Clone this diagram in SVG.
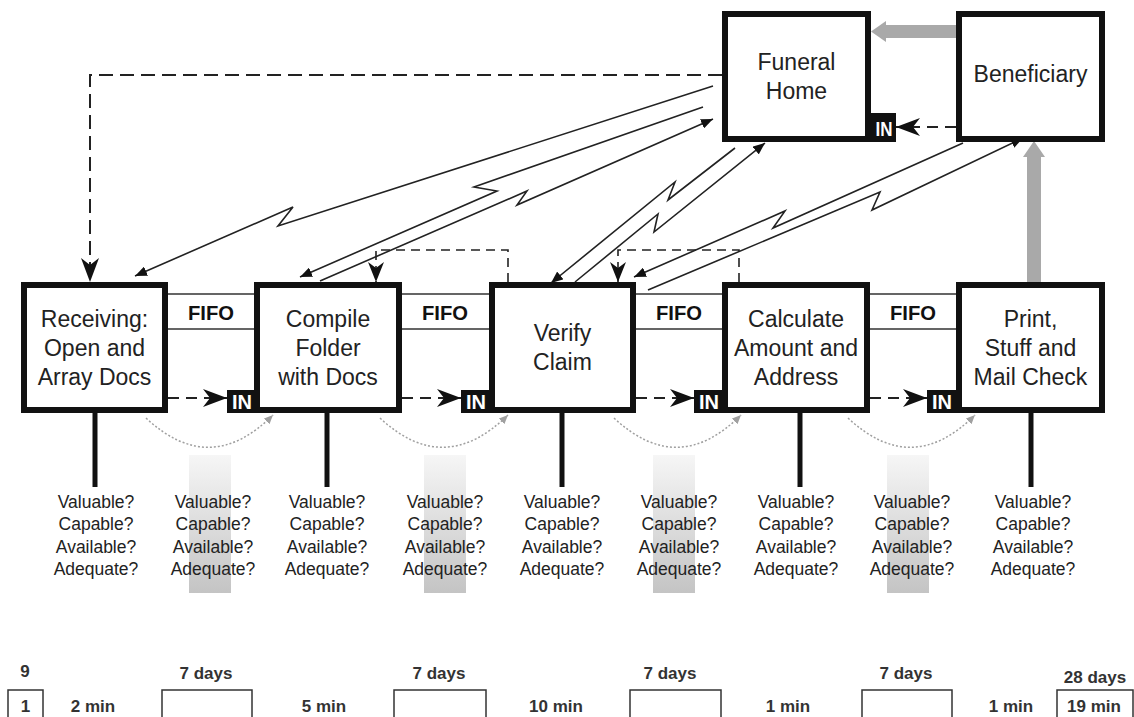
<svg xmlns="http://www.w3.org/2000/svg" width="1134" height="717" viewBox="0 0 1134 717">
<style>
.box{fill:#fff;stroke:#111;stroke-width:6}
.lbl{font-family:"Liberation Sans",Arial,sans-serif;font-size:23px;fill:#222;text-anchor:middle}
.fifo{font-family:"Liberation Sans",Arial,sans-serif;font-size:21px;font-weight:bold;fill:#111;text-anchor:middle}
.in{font-family:"Liberation Sans",Arial,sans-serif;font-size:20px;font-weight:bold;fill:#fff;text-anchor:middle}
.q{font-family:"Liberation Sans",Arial,sans-serif;font-size:17.5px;fill:#222;text-anchor:middle}
.t{font-family:"Liberation Sans",Arial,sans-serif;font-size:17px;font-weight:bold;fill:#333;text-anchor:middle}
.thin{stroke:#333;stroke-width:1.5;fill:none}
.zig{stroke:#222;stroke-width:1.6;fill:none;stroke-linejoin:miter;marker-end:url(#tri)}
.dashL{stroke:#222;stroke-width:2;fill:none;stroke-dasharray:14 7;marker-end:url(#barb)}
.dashS{stroke:#222;stroke-width:1.6;fill:none;stroke-dasharray:9 6;marker-end:url(#barbS)}
.dashIn{stroke:#222;stroke-width:2;fill:none;stroke-dasharray:11 7;marker-end:url(#barb)}
.dot{stroke:#a0a0a0;stroke-width:1.5;fill:none;stroke-dasharray:2 2;marker-end:url(#gtri)}
.stem{stroke:#111;stroke-width:5}
.band{fill:url(#bandg)}
.gray{fill:#a9a9a9}
.tbox{fill:none;stroke:#333;stroke-width:1.5}
</style>
<defs>
<marker id="barb" viewBox="0 0 24 18" refX="24" refY="9" markerWidth="24" markerHeight="18" orient="auto" markerUnits="userSpaceOnUse"><path d="M24,9 L0,0 L7,9 L0,18 Z" fill="#111"/></marker>
<marker id="barbS" viewBox="0 0 20 16" refX="20" refY="8" markerWidth="20" markerHeight="16" orient="auto" markerUnits="userSpaceOnUse"><path d="M20,8 L0,0 L6,8 L0,16 Z" fill="#111"/></marker>
<marker id="tri" viewBox="0 0 12 10" refX="12" refY="5" markerWidth="12" markerHeight="10" orient="auto" markerUnits="userSpaceOnUse"><path d="M0,0 L12,5 L0,10 Z" fill="#111"/></marker>
<marker id="gtri" viewBox="0 0 9 8" refX="9" refY="4" markerWidth="9" markerHeight="8" orient="auto" markerUnits="userSpaceOnUse"><path d="M0,0 L9,4 L0,8 Z" fill="#a0a0a0"/></marker>
<linearGradient id="bandg" x1="0" y1="0" x2="0" y2="1"><stop offset="0" stop-color="#f6f6f6"/><stop offset="1" stop-color="#c4c4c4"/></linearGradient>
</defs>

<g id="bands">
<rect class="band" x="189" y="455" width="42" height="138"/>
<rect class="band" x="424" y="455" width="42" height="138"/>
<rect class="band" x="653" y="455" width="42" height="138"/>
<rect class="band" x="887" y="455" width="42" height="138"/>
</g>

<g id="connectors">
<!-- FIFO lanes -->
<path class="thin" d="M168,294 H254 M168,329 H254"/>
<path class="thin" d="M402,294 H489 M402,329 H489"/>
<path class="thin" d="M636,294 H722 M636,329 H722"/>
<path class="thin" d="M870,294 H956 M870,329 H956"/>
<!-- gray physical flow arrows -->
<rect class="gray" x="885" y="25" width="71" height="13"/>
<polygon class="gray" points="871,31.5 886,21 886,42"/>
<rect class="gray" x="1027" y="155" width="14" height="128"/>
<polygon class="gray" points="1034,141 1023,157 1045,157"/>
<!-- dashed info flows -->
<path class="dashL" d="M722,75 H90 V282"/>
<path class="dashS" d="M508,282 V250 H376 V282"/>
<path class="dashS" d="M739,282 V250 H618 V282"/>
<path class="dashIn" d="M168,398 H227"/>
<path class="dashIn" d="M402,398 H461"/>
<path class="dashIn" d="M636,398 H694"/>
<path class="dashIn" d="M870,398 H927"/>
<path class="dashIn" d="M956,127 H896"/>
<!-- electronic flows -->
<path class="zig" d="M713,86 L278,226 L293,207 L135,276"/>
<path class="zig" d="M703,107 L474,187 L497,191 L300,277"/>
<path class="zig" d="M320,281 L527,191 L517,205 L713,119"/>
<path class="zig" d="M735,148 L668,200 L675,182 L551,283"/>
<path class="zig" d="M575,282 L658,214 L654,232 L765,143"/>
<path class="zig" d="M963,143 L773,228 L785,211 L634,277"/>
<path class="zig" d="M648,290 L880,192 L872,210 L1023,138"/>
<!-- dotted pull curves -->
<path class="dot" d="M146,418 Q210,478 273,415"/>
<path class="dot" d="M380,418 Q444,478 508,415"/>
<path class="dot" d="M614,418 Q678,478 741,415"/>
<path class="dot" d="M848,418 Q912,478 975,415"/>
<!-- stems -->
<line class="stem" x1="95" y1="413" x2="95" y2="487"/>
<line class="stem" x1="327" y1="413" x2="327" y2="487"/>
<line class="stem" x1="562" y1="413" x2="562" y2="487"/>
<line class="stem" x1="800" y1="413" x2="800" y2="487"/>
<line class="stem" x1="1031" y1="413" x2="1031" y2="487"/>
</g>

<g id="fifo-labels">
<text class="fifo" x="211" y="320" textLength="46" lengthAdjust="spacingAndGlyphs">FIFO</text>
<text class="fifo" x="445" y="320" textLength="46" lengthAdjust="spacingAndGlyphs">FIFO</text>
<text class="fifo" x="679" y="320" textLength="46" lengthAdjust="spacingAndGlyphs">FIFO</text>
<text class="fifo" x="913" y="320" textLength="46" lengthAdjust="spacingAndGlyphs">FIFO</text>
</g>

<g id="funeral-home">
<rect class="box" x="725" y="14" width="143" height="125"/>
<text class="lbl" x="796.5" y="70">Funeral</text>
<text class="lbl" x="796.5" y="99">Home</text>
<rect x="871" y="113" width="25" height="29" fill="#111"/>
<text class="in" x="884" y="136" font-size="22" textLength="17" lengthAdjust="spacingAndGlyphs">IN</text>
</g>

<g id="beneficiary">
<rect class="box" x="959" y="14" width="143" height="125"/>
<text class="lbl" x="1030.5" y="82">Beneficiary</text>
</g>

<g id="receiving">
<rect class="box" x="24" y="285" width="141" height="125"/>
<text class="lbl" x="94.5" y="327">Receiving:</text>
<text class="lbl" x="94.5" y="356">Open and</text>
<text class="lbl" x="94.5" y="385">Array Docs</text>
</g>

<g id="compile">
<rect class="box" x="257" y="285" width="142" height="125"/>
<text class="lbl" x="328" y="327">Compile</text>
<text class="lbl" x="328" y="356">Folder</text>
<text class="lbl" x="328" y="385">with Docs</text>
<rect x="227" y="390" width="30" height="23" fill="#111"/>
<text class="in" x="242" y="409" textLength="20" lengthAdjust="spacingAndGlyphs">IN</text>
</g>

<g id="verify">
<rect class="box" x="492" y="285" width="141" height="125"/>
<text class="lbl" x="562.5" y="341">Verify</text>
<text class="lbl" x="562.5" y="370">Claim</text>
<rect x="461" y="390" width="30" height="23" fill="#111"/>
<text class="in" x="476" y="409" textLength="20" lengthAdjust="spacingAndGlyphs">IN</text>
</g>

<g id="calculate">
<rect class="box" x="725" y="285" width="142" height="125"/>
<text class="lbl" x="796" y="327">Calculate</text>
<text class="lbl" x="796" y="356">Amount and</text>
<text class="lbl" x="796" y="385">Address</text>
<rect x="694" y="390" width="30" height="23" fill="#111"/>
<text class="in" x="709" y="409" textLength="20" lengthAdjust="spacingAndGlyphs">IN</text>
</g>

<g id="print">
<rect class="box" x="959" y="285" width="143" height="125"/>
<text class="lbl" x="1030.5" y="327">Print,</text>
<text class="lbl" x="1030.5" y="356">Stuff and</text>
<text class="lbl" x="1030.5" y="385">Mail Check</text>
<rect x="927" y="390" width="31" height="23" fill="#111"/>
<text class="in" x="942" y="409" textLength="20" lengthAdjust="spacingAndGlyphs">IN</text>
</g>

<g id="questions">
<g class="q">
<text x="96" y="508">Valuable?</text><text x="96" y="530">Capable?</text><text x="96" y="553">Available?</text><text x="96" y="575">Adequate?</text>
<text x="213" y="508">Valuable?</text><text x="213" y="530">Capable?</text><text x="213" y="553">Available?</text><text x="213" y="575">Adequate?</text>
<text x="327" y="508">Valuable?</text><text x="327" y="530">Capable?</text><text x="327" y="553">Available?</text><text x="327" y="575">Adequate?</text>
<text x="445" y="508">Valuable?</text><text x="445" y="530">Capable?</text><text x="445" y="553">Available?</text><text x="445" y="575">Adequate?</text>
<text x="562" y="508">Valuable?</text><text x="562" y="530">Capable?</text><text x="562" y="553">Available?</text><text x="562" y="575">Adequate?</text>
<text x="679" y="508">Valuable?</text><text x="679" y="530">Capable?</text><text x="679" y="553">Available?</text><text x="679" y="575">Adequate?</text>
<text x="796" y="508">Valuable?</text><text x="796" y="530">Capable?</text><text x="796" y="553">Available?</text><text x="796" y="575">Adequate?</text>
<text x="912" y="508">Valuable?</text><text x="912" y="530">Capable?</text><text x="912" y="553">Available?</text><text x="912" y="575">Adequate?</text>
<text x="1033" y="508">Valuable?</text><text x="1033" y="530">Capable?</text><text x="1033" y="553">Available?</text><text x="1033" y="575">Adequate?</text>
</g>
</g>

<g id="timeline">
<text class="t" x="25" y="677">9</text>
<rect class="tbox" x="8" y="690" width="35" height="40"/>
<text class="t" x="25.5" y="712">1</text>
<text class="t" x="93" y="712">2 min</text>
<text class="t" x="206" y="679">7 days</text>
<rect class="tbox" x="162" y="690" width="90" height="40"/>
<text class="t" x="324" y="712">5 min</text>
<text class="t" x="439" y="679">7 days</text>
<rect class="tbox" x="394" y="690" width="92" height="40"/>
<text class="t" x="556" y="712">10 min</text>
<text class="t" x="670" y="679">7 days</text>
<rect class="tbox" x="630" y="690" width="91" height="40"/>
<text class="t" x="788" y="712">1 min</text>
<text class="t" x="906" y="679">7 days</text>
<rect class="tbox" x="862" y="690" width="90" height="40"/>
<text class="t" x="1011" y="712">1 min</text>
<text class="t" x="1095" y="683">28 days</text>
<rect class="tbox" x="1057" y="690" width="76" height="40"/>
<text class="t" x="1094" y="712">19 min</text>
</g>
</svg>
